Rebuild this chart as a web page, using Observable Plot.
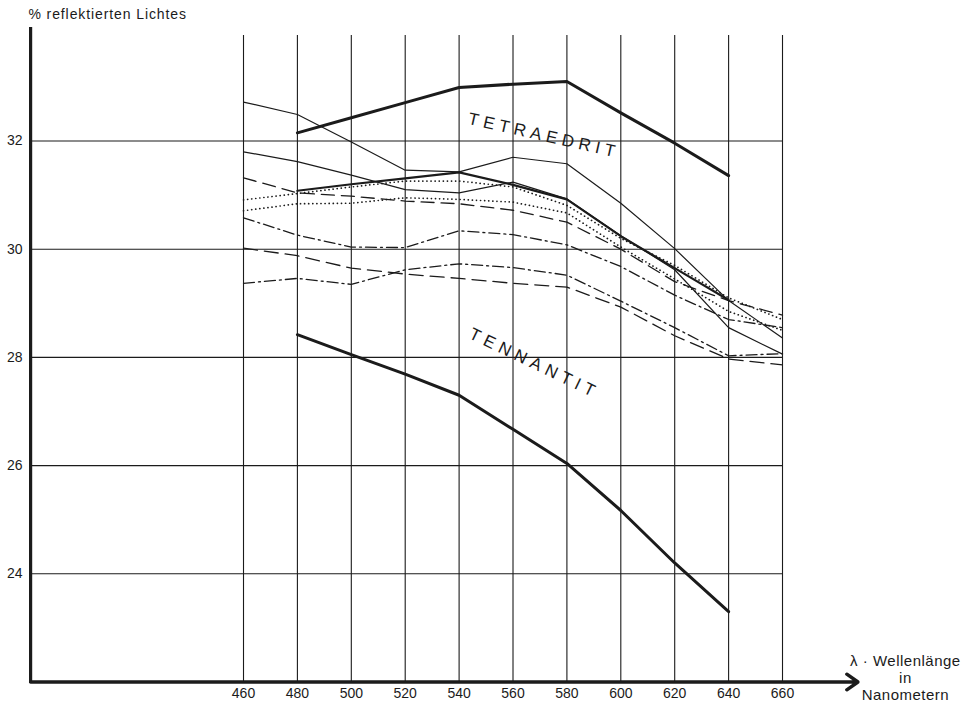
<!DOCTYPE html>
<html><head><meta charset="utf-8">
<script src="https://cdn.jsdelivr.net/npm/d3@7"></script>
<script src="https://cdn.jsdelivr.net/npm/@observablehq/plot@0.6"></script>
<style>body{margin:0;background:#fff} svg{display:block}</style>
</head><body><div id="chart"></div>
<script>
// ---- data ----
const wavelengths = [460, 480, 500, 520, 540, 560, 580, 600, 620, 640, 660];
const tetraedrit = [null, 32.15, 32.43, 32.71, 32.99, 33.05, 33.10, 32.52, 31.96, 31.36, null];
const tennantit  = [null, 28.42, 28.05, 27.69, 27.30, 26.67, 26.04, 25.17, 24.20, 23.30, null];
const solidA   = [32.72, 32.49, 31.98, 31.46, 31.43, 31.70, 31.58, 30.85, 30.01, 29.05, 28.36];
const solidB   = [31.80, 31.62, 31.37, 31.10, 31.04, 31.24, 30.93, 30.25, 29.62, 28.55, 28.06];
const solidC   = [null, 31.08, 31.20, 31.31, 31.42, 31.19, 30.92, 30.24, 29.65, 29.06, null];
const dotted1  = [30.91, 31.03, 31.15, 31.26, 31.26, 31.15, 30.81, 30.20, 29.70, 29.10, 28.70];
const dotted2  = [30.71, 30.84, 30.85, 30.95, 30.92, 30.87, 30.67, 30.04, 29.45, 28.85, 28.50];
const dashed1  = [31.32, 31.04, 30.98, 30.89, 30.84, 30.72, 30.50, 30.00, 29.40, 29.05, 28.78];
const dashed2  = [30.02, 29.88, 29.65, 29.54, 29.46, 29.37, 29.30, 28.93, 28.40, 27.97, 27.86];
const dashDot1 = [30.58, 30.26, 30.04, 30.03, 30.34, 30.27, 30.08, 29.68, 29.15, 28.70, 28.55];
const dashDot2 = [29.37, 29.46, 29.35, 29.62, 29.73, 29.66, 29.52, 29.04, 28.55, 28.03, 28.07];
const xTicks = [460, 480, 500, 520, 540, 560, 580, 600, 620, 640, 660];
const yTicks = [24, 26, 28, 30, 32];
const yLabel = "% reflektierten Lichtes";
const xLabel = "λ · Wellenlänge\nin\nNanometern";
const mineralNames = ["TETRAEDRIT", "TENNANTIT"];

// ---- chart ----
const ink = "#1b1b1b";
const font = "'Liberation Sans', Arial, Helvetica, sans-serif";
const rows = vals => wavelengths.map((w, i) => ({w, v: vals[i]})).filter(d => d.v != null);
const line = (vals, opts) => Plot.line(rows(vals), {x: "w", y: "v", stroke: ink, strokeLinejoin: "round", ...opts});

const chart = Plot.plot({
  width: 966, height: 703,
  marginLeft: 30.1, marginRight: 127.4, marginTop: 32.3, marginBottom: 21.5,
  x: {domain: [381, 681], axis: null},
  y: {domain: [22, 34], axis: null},
  style: {fontFamily: font, color: ink, background: "#fff", overflow: "visible"},
  marks: [
    Plot.ruleX(xTicks, {y1: 22, y2: 33.95, stroke: ink, strokeWidth: 1.1}),
    Plot.ruleY(yTicks, {x1: 381, x2: 660, stroke: ink, strokeWidth: 1.1}),
    Plot.ruleX([381], {y1: 21.97, y2: 34.1, stroke: ink, strokeWidth: 3.2}),
    Plot.arrow([{a: 381, b: 688, y: 22}], {x1: "a", x2: "b", y1: "y", y2: "y", stroke: ink, strokeWidth: 3.4, headLength: 6, headAngle: 70}),
    line(dotted1, {strokeWidth: 1.7, strokeDasharray: "0.1,4", strokeLinecap: "round"}),
    line(dotted2, {strokeWidth: 1.7, strokeDasharray: "0.1,4", strokeLinecap: "round"}),
    line(dashed1, {strokeWidth: 1.3, strokeDasharray: "13,7"}),
    line(dashed2, {strokeWidth: 1.3, strokeDasharray: "14,7"}),
    line(dashDot1, {strokeWidth: 1.3, strokeDasharray: "11,4,2,4"}),
    line(dashDot2, {strokeWidth: 1.3, strokeDasharray: "11,4,2,4"}),
    line(solidA, {strokeWidth: 1.2}),
    line(solidB, {strokeWidth: 1.2}),
    line(solidC, {strokeWidth: 2.2}),
    line(tetraedrit, {strokeWidth: 3}),
    line(tennantit, {strokeWidth: 3}),
    // tick labels
    Plot.text(yTicks, {x: () => 381, y: d => d, text: d => String(d), dx: -8, textAnchor: "end", fontSize: 14, fill: ink}),
    Plot.text(xTicks, {x: d => d, y: () => 22, text: d => String(d), dy: 12, fontSize: 14, fill: ink}),
    // axis titles
    Plot.text([yLabel], {x: () => 380.2, y: () => 34.33, text: d => d, textAnchor: "start", fontSize: 14, fill: ink}),
    Plot.text([xLabel], {x: () => 705.6, y: () => 22.08, text: d => d, fontSize: 15, lineHeight: 1.12, fill: ink}),
    // mineral names
    Plot.text([{t: mineralNames[0], x: 571.5, y: 32.10, r: 12.8}, {t: mineralNames[1], x: 568.0, y: 27.89, r: 25.5}],
      {x: "x", y: "y", text: "t", rotate: "r", fontSize: 17, fill: ink})
  ]
});

d3.select(chart).selectAll("text").each(function() {
  const t = this.textContent;
  if (mineralNames.includes(t)) this.setAttribute("letter-spacing", t === "TENNANTIT" ? "5.2" : "4.8");
  if (t === yLabel) this.setAttribute("letter-spacing", "0.9");
  if (t.startsWith("λ") || t === "in" || t === "Nanometern") this.setAttribute("letter-spacing", "0.5");
});
document.getElementById("chart").append(chart);
</script>
</body></html>
